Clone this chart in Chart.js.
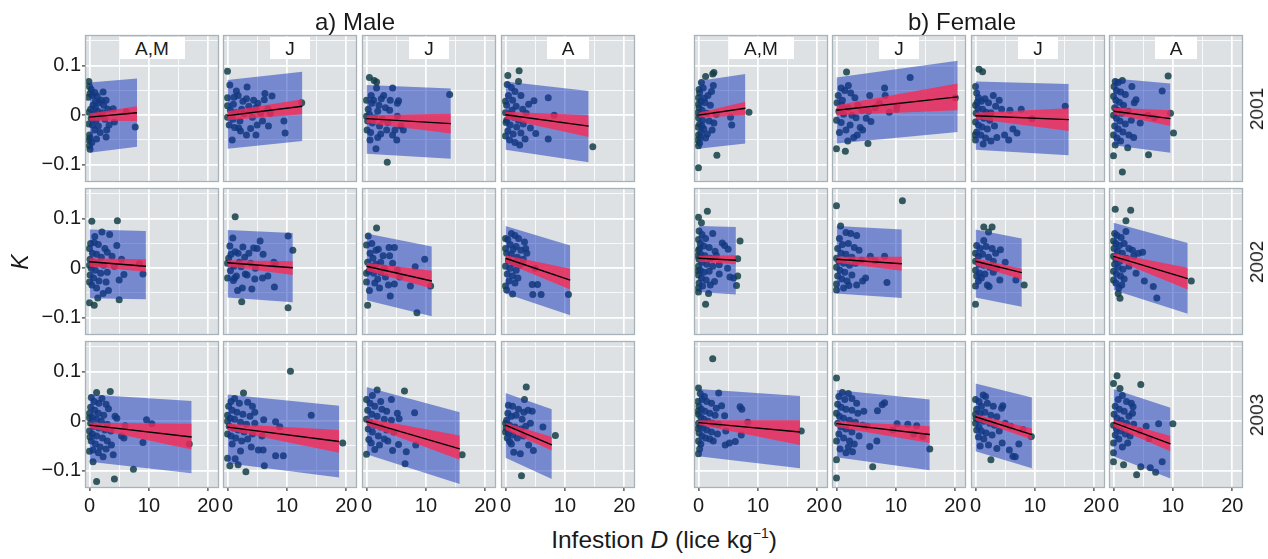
<!DOCTYPE html>
<html>
<head>
<meta charset="utf-8">
<script src="https://cdn.jsdelivr.net/npm/chart.js@4.4.1/dist/chart.umd.min.js"></script>
<style>
  body { margin: 0; width: 1268px; height: 559px; background: #fff; position: relative; overflow: hidden;
         font-family: "Liberation Sans", Arial, Helvetica, sans-serif; color: #1a1a1a; }
  canvas { position: absolute; }
  .t { position: absolute; white-space: nowrap; }
  .strip { position: absolute; background: #fff; height: 22px; line-height: 23px; font-size: 19px; text-align: center; }
  .rot { position: absolute; white-space: nowrap; transform: translate(-50%, -50%) rotate(-90deg); }
  sup { font-size: 14px; line-height: 0; vertical-align: 10px; }
</style>
</head>
<body>
<script>
// facets
const groups = ['a) Male', 'b) Female'];
const stages = ['A,M', 'J', 'J', 'A'];
const years = ['2001', '2002', '2003'];

// axes
const xTicks = [0, 10, 20];
const xMinor = [5, 15];
const yTicks = [-0.1, 0, 0.1];
const yTickLabels = ['\u22120.1', '0', '0.1'];
const yMinor = [-0.05, 0.05, 0.15];

// panels are numbered year by year: male A,M J J A then female A,M J J A
const xEnd = [8.0, 12.6, 14.2, 14.0, 7.9, 20.4, 15.7, 9.6,
              9.5, 11.0, 11.0, 10.9, 6.3, 11.0, 7.8, 12.5,
              17.2, 18.8, 15.7, 7.8, 17.1, 15.7, 9.5, 9.6];
const fitStart = [-0.004, -0.001, -0.007, 0.001, 0.000, 0.010, -0.001, 0.008,
                  0.013, 0.011, 0.004, 0.020, 0.020, 0.018, 0.014, 0.024,
                  -0.008, -0.012, -0.001, -0.008, -0.003, -0.005, 0.009, -0.003];
const fitEnd = [0.005, 0.018, -0.017, -0.022, 0.014, 0.037, -0.009, -0.007,
                0.004, 0.001, -0.026, -0.024, 0.016, 0.009, -0.009, -0.021,
                -0.032, -0.041, -0.056, -0.048, -0.022, -0.027, -0.027, -0.046];
const ciLoStart = [-0.0115, -0.010, -0.016, -0.007, -0.005, 0.000, -0.007, 0.002,
                   0.003, 0.004, -0.005, 0.011, 0.013, 0.011, 0.006, 0.018,
                   -0.014, -0.018, -0.008, -0.018, -0.007, -0.012, 0.002, -0.012];
const ciHiStart = [0.0035, 0.008, 0.000, 0.007, 0.005, 0.020, 0.005, 0.015,
                   0.020, 0.016, 0.011, 0.026, 0.025, 0.023, 0.020, 0.030,
                   -0.003, -0.005, 0.006, -0.003, 0.002, 0.000, 0.014, 0.003];
const ciLoEnd = [-0.012, 0.002, -0.037, -0.044, 0.000, 0.010, -0.032, -0.022,
                 -0.007, -0.014, -0.041, -0.043, 0.008, -0.005, -0.023, -0.043,
                 -0.057, -0.064, -0.078, -0.059, -0.048, -0.044, -0.037, -0.061];
const ciHiEnd = [0.018, 0.032, 0.003, 0.000, 0.027, 0.064, 0.014, 0.010,
                 0.018, 0.014, -0.005, -0.001, 0.026, 0.023, -0.001, 0.001,
                 -0.005, -0.018, -0.029, -0.032, 0.002, -0.010, -0.015, -0.030];
const piLoStart = [-0.076, -0.068, -0.078, -0.070, -0.068, -0.057, -0.070, -0.061,
                   -0.061, -0.059, -0.065, -0.051, -0.048, -0.051, -0.059, -0.044,
                   -0.082, -0.085, -0.067, -0.074, -0.071, -0.073, -0.061, -0.071];
const piHiStart = [0.066, 0.071, 0.061, 0.068, 0.069, 0.076, 0.068, 0.074,
                   0.078, 0.077, 0.070, 0.085, 0.085, 0.085, 0.078, 0.092,
                   0.054, 0.054, 0.069, 0.057, 0.065, 0.063, 0.076, 0.065];
const piLoEnd = [-0.064, -0.052, -0.088, -0.095, -0.057, -0.034, -0.081, -0.076,
                 -0.063, -0.069, -0.097, -0.095, -0.053, -0.060, -0.078, -0.092,
                 -0.105, -0.114, -0.127, -0.117, -0.095, -0.099, -0.095, -0.116];
const piHiEnd = [0.074, 0.088, 0.054, 0.049, 0.083, 0.110, 0.063, 0.064,
                 0.075, 0.071, 0.044, 0.046, 0.083, 0.078, 0.060, 0.051,
                 0.041, 0.031, 0.018, 0.024, 0.051, 0.044, 0.048, 0.027];

// observed fish: [infestation D, condition K]
const points = [
  [[-0.1,0.068],[0,0.058],[0.3,0.052],[0.1,0.044],[-0.2,0.036],[0.5,0.04],[0.9,0.046],[1.3,0.038],[2.3,0.047],[2,0.03],[2.8,0.03],[1.6,0.025],[0.6,0.02],[1,0.015],[0.2,0.012],[-0.1,0.006],[1.4,0.008],[2.2,0.005],[3.1,0.012],[4,0.013],[6.2,0.007],[0.7,0.002],[1.8,-0.002],[0.3,-0.006],[1.1,-0.01],[2.6,-0.008],[4.2,-0.014],[7.7,-0.024],[-0.1,-0.018],[0.5,-0.02],[1.5,-0.022],[2.9,-0.03],[1.8,-0.035],[0.9,-0.03],[0,-0.04],[0.1,-0.046],[-0.1,-0.05],[2.8,-0.044],[1.2,-0.048],[0.4,-0.055],[0,-0.062],[0.1,-0.069],[3.3,-0.02],[2.4,0.02],[1,0.028]],
  [[0,0.089],[0,0.035],[0,0.019],[0,-0.004],[0.4,0.061],[1.5,0.049],[1.1,0.036],[1.8,0.04],[3.3,0.057],[3.2,0.033],[2.6,0.028],[6.3,0.044],[7.5,0.039],[6.2,0.031],[5.1,0.024],[4.8,0.015],[6.8,0.013],[7.2,0.004],[9.5,-0.012],[9.7,-0.036],[6.9,-0.022],[5,-0.02],[4.8,-0.04],[3.2,-0.04],[2.2,-0.032],[0.8,-0.05],[1.2,-0.025],[2.1,-0.012],[0.5,0.01],[1.4,0.005],[2.8,0.003],[3.8,0.008],[4.2,-0.004],[5.6,0.004],[3.6,0.018],[2.4,0.012],[0.9,-0.008],[1.9,-0.026],[3.9,-0.027],[5.9,-0.012],[12.5,0.025],[4.4,0.03],[1,0.022],[0.3,-0.02]],
  [[0.5,0.076],[1.3,0.07],[1.7,0.067],[3.5,-0.095],[14,0.042],[1.7,0.055],[4.4,0.055],[2.5,0.033],[5.2,0.024],[5.4,0.029],[3.9,0.01],[5.2,-0.002],[5.8,-0.022],[6.2,-0.03],[4.8,-0.03],[4.4,-0.04],[5.1,-0.05],[1.6,-0.068],[0.6,-0.05],[1.9,-0.045],[0.1,-0.03],[0.3,0.012],[0.8,0.04],[1.2,0.03],[2.1,0.02],[0.5,0.002],[1.4,-0.005],[2.7,-0.008],[3.2,0.015],[1,-0.016],[2.2,-0.022],[3.4,-0.03],[0.2,-0.012],[0.9,0.024],[1.9,0.008],[2.9,0.04],[3.6,-0.015],[0,0.03],[0,-0.002],[4,0.03],[2.4,-0.038],[0.7,-0.035]],
  [[0.4,0.08],[2.3,0.09],[2.2,0.068],[14.7,-0.064],[7.2,0.035],[8.2,0],[7.2,-0.048],[5.1,-0.037],[4.8,0.029],[3.9,0.022],[0.3,0.062],[1,0.056],[1.6,0.048],[0.5,0.04],[2.6,0.04],[1.2,0.03],[0.2,0.02],[1.8,0.018],[2.9,0.012],[0,0.005],[0.6,0.002],[1.4,-0.004],[3.5,0.004],[2.2,-0.01],[0.1,-0.015],[0.8,-0.02],[1.9,-0.024],[3,-0.018],[4.2,-0.026],[0.4,-0.032],[1.3,-0.038],[2.6,-0.036],[0,-0.042],[0.7,-0.05],[1.6,-0.055],[3.3,-0.048],[2.4,-0.06],[0.2,-0.01],[1.1,0.01],[0,0.028]],
  [[2.4,0.083],[2.6,0.086],[1.2,0.078],[8.5,0.006],[3.1,-0.081],[0,-0.106],[-0.1,-0.05],[5.4,-0.004],[5.6,-0.02],[2.5,0.06],[2.2,0.048],[1.2,-0.046],[0.5,0.066],[0.8,0.055],[1.6,0.04],[0.2,0.045],[0,0.035],[0.4,0.028],[1.1,0.025],[2,0.02],[0.1,0.015],[0.6,0.01],[-0.1,0.005],[0.3,0],[1.4,0.004],[0,-0.005],[0.7,-0.01],[1.8,-0.012],[0.2,-0.018],[-0.1,-0.024],[0.9,-0.028],[2.3,-0.03],[0.4,-0.035],[0,-0.04],[1.5,-0.038],[0.2,-0.056],[0,-0.062],[0.6,-0.022],[0.1,0.052],[1,0.034],[0,0.022],[0.3,-0.045],[3,0.002],[2.6,-0.016]],
  [[1.7,0.087],[0,-0.068],[1.5,-0.073],[5.3,-0.057],[12.4,0.076],[20,0.035],[8.1,0.055],[8.2,0.04],[8.9,0.006],[10.2,0.02],[10.1,0.012],[7.2,0.024],[5.6,0.04],[5.4,0.008],[5.8,-0.013],[5,-0.006],[3.5,-0.04],[1.9,-0.052],[1.6,-0.03],[0.3,0.04],[0.8,0.055],[1.4,0.05],[2.4,0.045],[3.1,0.035],[0.1,0.025],[0.9,0.02],[2,0.015],[3.6,0.02],[4.3,0.01],[0.4,0.008],[1.2,0.002],[2.6,0],[3.3,-0.005],[0,-0.01],[0.8,-0.015],[2.3,-0.02],[4,-0.025],[0.5,-0.035],[2.9,-0.045],[4.4,-0.03],[1,0.03],[2,0.06],[6.5,0.015]],
  [[0.6,0.093],[1.2,0.088],[0,0.058],[15.1,0.018],[7.7,0.012],[9.5,-0.007],[7,-0.036],[6.3,-0.028],[5.6,-0.05],[4.9,-0.04],[3,0.04],[4,0.03],[3.4,0.018],[5.8,0.01],[2.6,0.005],[0.2,0.045],[0.5,0.035],[1,0.028],[1.6,0.033],[2.2,0.025],[0,0.02],[0.4,0.014],[1.2,0.012],[1.8,0.006],[0.1,0.004],[0.7,-0.002],[1.4,-0.006],[2.4,-0.01],[0,-0.014],[0.5,-0.02],[1.1,-0.024],[2,-0.028],[3.2,-0.022],[0.2,-0.034],[0.9,-0.04],[1.7,-0.046],[3.6,-0.045],[0,-0.05],[1.3,-0.058],[2.6,-0.052],[4.4,0.012],[0.3,0.026],[-0.1,-0.04]],
  [[9.2,0.079],[9.6,0.004],[10.1,-0.036],[0,-0.082],[1.5,-0.115],[5.9,-0.08],[2.4,-0.066],[8.2,0.049],[6.9,-0.005],[5.8,0],[4.5,-0.016],[3.8,0.031],[3.5,0.025],[3.1,0.058],[0.3,0.068],[0.8,0.066],[1.5,0.07],[0.1,0.058],[0.5,0.05],[1.2,0.047],[2,0.042],[0,0.038],[0.4,0.03],[1,0.026],[1.7,0.02],[0.2,0.015],[0.7,0.01],[1.4,0.004],[2.5,0.008],[0,0],[0.5,-0.006],[1.1,-0.012],[2,-0.018],[3,-0.01],[0.2,-0.022],[0.8,-0.028],[1.6,-0.034],[0,-0.04],[0.6,-0.046],[1.2,-0.052],[2.6,-0.04],[0.3,-0.06],[3.4,-0.045]],
  [[0.4,0.095],[4.7,0.096],[0,-0.07],[0.8,-0.075],[1.4,-0.06],[5,-0.064],[2.1,0.073],[3.4,0.068],[4.6,0.046],[5.8,-0.013],[9,-0.012],[5.4,0.018],[8.4,0.009],[5,-0.024],[3.2,-0.045],[2.3,-0.051],[0.2,0.05],[0.8,0.052],[1.5,0.048],[2.6,0.04],[3,0.032],[0,0.04],[0.5,0.03],[1.2,0.028],[2,0.022],[3.8,0.024],[0.1,0.018],[0.6,0.012],[1.4,0.01],[2.4,0.006],[0,0.006],[0.3,0],[1,-0.004],[1.9,-0.01],[3,-0.008],[0.1,-0.014],[0.7,-0.02],[1.6,-0.026],[2.8,-0.028],[0.4,-0.034],[1.2,-0.04],[0,-0.028],[0.9,0.064],[4.2,0.004]],
  [[1.3,0.104],[2.4,-0.068],[10.2,-0.08],[10.2,0.065],[11,0.036],[5.5,0.055],[4.4,0.041],[5,0.04],[2.6,0.043],[0.9,0.061],[1.3,0.033],[2.9,0.022],[7.8,0.012],[8.1,0.008],[4.7,0],[2.3,0.003],[3.3,-0.014],[4.6,-0.022],[3,-0.012],[1.5,-0.016],[1.2,-0.02],[5.9,-0.02],[6.8,-0.016],[7.9,-0.038],[1,-0.025],[0,-0.02],[0.2,0.02],[0,0.01],[0.6,0.028],[1.8,0.03],[0.4,0.045],[3.6,0.03],[2,0.012],[1.1,0.004],[0.5,-0.005],[2.5,-0.04],[1.7,-0.045],[4.1,-0.042],[6,0.028],[3.9,0.01]],
  [[1.7,0.081],[0.2,-0.075],[8.5,-0.09],[0,0.047],[0,-0.01],[0,-0.028],[0.3,0.065],[9.8,0.018],[10.8,-0.036],[8.2,0.003],[7.4,-0.036],[4,-0.056],[4.7,0.042],[3.8,0.042],[2,0.038],[1.6,0.036],[2.8,0.025],[3.9,0.025],[4.4,0.01],[5.2,-0.004],[4.7,-0.032],[3.7,-0.034],[1.9,-0.022],[1.4,-0.03],[0.5,-0.045],[0.6,0.03],[1.1,0.02],[0.2,0.012],[0.8,0.004],[1.6,0.008],[2.4,0.012],[3,0],[0.4,-0.006],[1.2,-0.01],[2.4,-0.008],[3.2,-0.018],[2.2,-0.04],[0.9,0.05],[5.6,-0.018]],
  [[1,0.07],[3.2,0.053],[3.6,0.03],[2.1,-0.02],[4.5,-0.033],[5.4,-0.033],[4.6,-0.053],[6,-0.053],[10.6,-0.053],[5,0],[1.2,-0.052],[0,-0.036],[0,0.06],[0,0.04],[1.6,0.066],[0.4,0.058],[2.2,0.06],[0.8,0.048],[1.8,0.044],[2.6,0.036],[0.2,0.03],[1,0.028],[2,0.022],[3,0.018],[0.5,0.015],[1.4,0.01],[2.4,0.006],[0,0.004],[0.8,0],[1.8,-0.004],[0.3,-0.012],[1.2,-0.016],[0.6,-0.026],[1.6,-0.03],[0.2,-0.044],[2.8,0.01],[3.4,0.04],[1.3,0.038]],
  [[1.5,0.115],[0,0.103],[0.5,0.092],[7,0.055],[6.6,0.019],[6.6,-0.016],[6.4,-0.035],[1.2,-0.073],[1.7,-0.051],[0,-0.048],[2.4,0.07],[4,0.051],[4.4,0.046],[5,0.038],[3.5,0.007],[4.9,0],[5.3,-0.018],[3.5,-0.012],[2.7,-0.027],[5.9,-0.02],[0.1,0.075],[0.6,0.068],[1.2,0.06],[0,0.058],[0.3,0.05],[0.9,0.045],[1.8,0.042],[2.8,0.034],[0,0.036],[0.4,0.028],[1.1,0.025],[2,0.02],[0.1,0.018],[0.6,0.012],[1.4,0.008],[2.4,0.004],[0,0.004],[0.3,-0.004],[0.9,-0.008],[1.8,-0.006],[0,-0.014],[0.5,-0.02],[1.3,-0.024],[0.1,-0.03],[0.7,-0.036],[2,-0.034],[0,-0.04],[3,0.026],[0.2,0.04],[-0.1,0.025],[-0.1,-0.005]],
  [[0,0.126],[11.1,0.136],[0.7,0.085],[8.5,-0.029],[8.1,0.024],[5.7,0.024],[4.9,-0.02],[4.4,-0.026],[3.4,-0.034],[2.1,-0.035],[0,-0.032],[2.4,0.07],[3.4,0.066],[1.6,0.072],[3.8,0.036],[3,0.042],[2,0.05],[0.5,0.06],[1,0.048],[0.2,0.04],[0.8,0.03],[1.6,0.028],[2.6,0.022],[0,0.02],[0.4,0.014],[1.2,0.01],[2.2,0.006],[3.2,0.01],[0,0.002],[0.6,-0.004],[1.4,-0.008],[2.6,-0.014],[0.2,-0.016],[0.9,-0.022],[1.8,-0.026],[0,-0.044],[1.2,-0.04],[6.5,0.015],[4.2,0.016]],
  [[1.4,0.083],[2.8,0.083],[0,-0.073],[8.2,-0.034],[2.2,0.073],[1.4,0.056],[4.2,0.037],[5,0.012],[6.8,-0.024],[4.1,-0.024],[2.3,-0.037],[2,-0.034],[0.5,-0.026],[0.2,0.046],[0.8,0.04],[1.8,0.044],[2.8,0.04],[3.4,0.03],[0,0.03],[0.5,0.024],[1.2,0.028],[2.2,0.022],[3,0.014],[0,0.014],[0.6,0.008],[1.4,0.006],[2.4,0.002],[3.6,0],[0,-0.004],[0.7,-0.01],[1.6,-0.012],[0.2,-0.016],[1,-0.02],[0,-0.036],[3,-0.008]],
  [[0.3,0.119],[2.9,0.117],[2.1,0.096],[13.1,-0.026],[0.8,-0.051],[1.1,-0.061],[7.3,-0.06],[6.7,-0.037],[5.2,-0.026],[4.9,0.032],[4.2,0.03],[2.1,0.074],[1.8,-0.022],[1.4,-0.034],[0.2,0.07],[0.6,0.066],[1.3,0.062],[0,0.055],[0.4,0.05],[1,0.046],[1.8,0.05],[2.6,0.04],[0.1,0.04],[0.7,0.034],[1.5,0.03],[3.2,0.036],[0,0.024],[0.4,0.018],[1.1,0.014],[2.2,0.02],[0.2,0.008],[0.8,0.002],[1.6,-0.002],[2.6,0.004],[0,-0.006],[0.5,-0.012],[1.2,-0.016],[0,-0.024],[0.4,-0.03],[0.9,-0.04],[3.8,-0.01],[3.4,0.024]],
  [[1.2,-0.122],[4.2,-0.117],[7.4,-0.097],[16.8,-0.046],[1.2,0.058],[3.5,0.06],[0,0.007],[0,-0.061],[0.6,-0.082],[9.6,0.003],[10.5,-0.005],[9,-0.043],[6,-0.009],[5.8,-0.034],[5.4,-0.03],[4,-0.068],[2.3,-0.072],[4.3,0.01],[4.6,0.006],[3.2,0.025],[2.8,0.034],[2.1,0.046],[0.3,0.048],[0.8,0.04],[1.6,0.036],[0.2,0.028],[0.9,0.022],[1.5,0.016],[2.4,0.012],[0,0.016],[0.5,0.008],[1.2,0.004],[2,0],[3,-0.006],[0.2,-0.004],[0.8,-0.01],[1.6,-0.014],[2.6,-0.018],[3.6,-0.02],[0,-0.02],[0.5,-0.026],[1.2,-0.03],[2.2,-0.034],[3,-0.04],[0.3,-0.04],[1,-0.046],[1.8,-0.052],[2.8,-0.056],[0.6,-0.058],[1.5,-0.064],[0.1,-0.032],[3.7,-0.048]],
  [[10.6,0.101],[19.4,-0.044],[0.4,-0.09],[1.8,-0.088],[3.1,-0.102],[6.2,-0.09],[2.7,0.057],[0,0],[0,-0.075],[14.1,0.012],[8.1,-0.001],[8.8,-0.011],[8.1,-0.07],[9.4,-0.07],[6.1,0.003],[6,-0.058],[5.2,-0.058],[4,-0.052],[2.2,-0.06],[1.3,-0.076],[0.6,0.04],[1.2,0.046],[2,0.036],[3.4,0.038],[4.2,0.03],[0.2,0.03],[0.8,0.022],[1.6,0.018],[2.6,0.014],[3.8,0.01],[0,0.012],[0.5,0.006],[1.2,0.004],[2.2,-0.002],[3.2,-0.006],[4.6,-0.004],[0.3,-0.01],[1,-0.014],[1.8,-0.018],[2.8,-0.022],[4.2,-0.026],[0,-0.026],[0.6,-0.03],[1.4,-0.034],[2.4,-0.04],[3.4,-0.036],[0.8,-0.046],[5.8,-0.03],[4.6,0.018]],
  [[6.4,0.061],[16.1,-0.068],[0,0.044],[0,-0.067],[8.1,0.017],[8.3,-0.048],[6.5,-0.086],[6.7,-0.062],[5.4,-0.047],[4.4,-0.059],[1.4,-0.057],[0.4,-0.037],[1.8,0.063],[4.2,0.044],[5.2,0.016],[5.5,0.005],[2.4,0.04],[1,0.052],[0.6,0.036],[1.4,0.03],[2.6,0.024],[3.4,0.02],[0.2,0.022],[0.9,0.014],[1.8,0.01],[3,0.004],[4.2,0.002],[0,0.004],[0.6,-0.002],[1.4,-0.008],[2.4,-0.012],[3.4,-0.018],[4.6,-0.022],[0.3,-0.016],[1,-0.022],[2,-0.03],[3,-0.036],[0.8,-0.044],[2.2,-0.048],[3.6,-0.04]],
  [[3.5,0.069],[3.2,0.044],[2.7,-0.11],[8.4,-0.029],[0,-0.004],[0,-0.022],[0.5,0.032],[4.5,0.02],[6.3,-0.012],[4.7,-0.059],[3.9,-0.048],[2.5,-0.066],[1.4,-0.063],[0.7,-0.041],[3.1,0.018],[1.2,0.03],[2.2,0.024],[3.8,0.022],[0.4,0.016],[1,0.01],[1.8,0.012],[2.8,0.004],[0.2,0.002],[0.7,-0.008],[1.6,-0.012],[2.6,-0.016],[3.4,-0.01],[0.1,-0.014],[0.5,-0.024],[1.2,-0.028],[2,-0.034],[3,-0.03],[0.3,-0.034],[4.2,-0.004],[1,-0.046]],
  [[2.4,0.126],[0,0.067],[0,-0.066],[17.3,-0.02],[3.4,0.057],[7,0.029],[7.3,0.024],[8.3,-0.002],[7.2,-0.028],[6.2,-0.041],[4.5,-0.048],[5.2,-0.044],[3.9,0.031],[4.4,0.011],[2.5,-0.04],[1.9,-0.036],[1,0.05],[0.3,0.056],[0.6,0.044],[1.4,0.04],[2.2,0.036],[3,0.026],[0.1,0.03],[0.5,0.024],[1.1,0.02],[1.9,0.016],[2.8,0.012],[0,0.014],[0.4,0.008],[0.9,0.004],[1.6,0],[2.4,-0.004],[3.4,-0.006],[0,-0.004],[0.3,-0.01],[0.8,-0.014],[1.4,-0.018],[2.2,-0.022],[3.2,-0.026],[0.1,-0.024],[0.6,-0.03],[1.2,-0.034],[0,-0.04],[0.4,-0.046],[4.6,-0.02],[0.2,-0.056],[-0.1,0.04],[-0.1,0.02],[-0.1,-0.015]],
  [[0,0.087],[0,-0.04],[0,-0.078],[0,-0.115],[6.1,-0.092],[15.7,-0.056],[12,-0.006],[13.5,-0.009],[14.5,-0.031],[13,-0.026],[8.1,0.037],[7.7,0.033],[6.9,0.021],[6.8,-0.04],[5.6,-0.051],[2.7,-0.062],[2,-0.052],[4.6,0.02],[4.4,-0.008],[1,0.058],[2,0.056],[0.4,0.05],[1.4,0.044],[2.6,0.046],[3.4,0.036],[0.2,0.034],[0.8,0.028],[1.6,0.024],[2.6,0.022],[3.6,0.016],[0,0.016],[0.5,0.01],[1.2,0.006],[2.2,0.002],[3.2,-0.002],[5.2,-0.01],[0.2,-0.004],[0.8,-0.012],[1.6,-0.016],[2.6,-0.022],[3.8,-0.03],[0.4,-0.026],[1.2,-0.034],[2.2,-0.04],[3,-0.046],[0.6,-0.056],[1.6,-0.064],[9.5,-0.018],[10.2,-0.005]],
  [[0,0.044],[0,0.014],[0,-0.004],[2.6,-0.078],[9.4,-0.031],[1.3,0.053],[1.7,0.05],[4.6,0.031],[4.4,0.026],[3.6,0.009],[5.9,-0.01],[7.3,-0.046],[6.3,-0.071],[6.7,-0.072],[5.7,-0.058],[4.5,-0.044],[3.6,-0.055],[2.2,-0.048],[0.8,-0.05],[0.6,-0.012],[8,-0.017],[0.6,0.04],[1,0.03],[2,0.036],[3,0.03],[0.2,0.024],[0.8,0.016],[1.6,0.018],[2.6,0.012],[0.1,0.006],[0.6,0.002],[1.4,0],[2.4,-0.004],[3.2,-0.008],[0.2,-0.018],[1,-0.02],[1.8,-0.024],[2.8,-0.028],[4,-0.02],[0.5,-0.032],[1.4,-0.036],[5,-0.004]],
  [[0.6,0.092],[0,0.076],[1.1,0.066],[4.6,0.074],[10,-0.005],[0,-0.082],[1.7,-0.088],[3.9,-0.108],[0,-0.064],[7.6,-0.005],[5.5,-0.01],[8.2,-0.082],[6.2,-0.094],[7.1,-0.103],[4.6,-0.092],[6,-0.035],[1.5,-0.052],[3.3,0.029],[3.2,0.016],[1.5,0.052],[0.8,0.044],[2.2,0.04],[3,0.036],[0.3,0.03],[1,0.024],[1.8,0.02],[2.6,0.01],[0.1,0.014],[0.6,0.006],[1.3,0.002],[2.2,-0.004],[3.4,-0.006],[0,-0.008],[0.5,-0.016],[1.2,-0.02],[2,-0.026],[2.8,-0.03],[0.3,-0.028],[0.9,-0.036],[2.4,-0.044],[0,-0.044],[4.4,-0.02]]
];

// layout and look
const panelLeft = [85, 223, 362, 501, 694, 832, 971, 1109];
const panelTop = [35, 188, 341];
const PW = 134, PH = 147;
const AXW = 50, PADT = 16, PADR = 14, AXH = 32;
const X_MIN = -0.75, X_MAX = 21.8, Y_MIN = -0.135, Y_MAX = 0.162;
const BG = '#dde1e4', FRAME = '#a7b2b9', TICK = '#6f6f6f', TXT = '#1a1a1a';
const PT = 'rgba(20,62,72,0.85)';
const BLUE = 'rgba(15,50,185,0.5)';
const RED = 'rgba(255,40,80,0.78)';
const FONT = '"Liberation Sans", Arial, Helvetica, sans-serif';

const near = (a, b) => Math.abs(a - b) < 1e-9;

const panelFrame = {
  id: 'panelFrame',
  beforeDraw(chart) {
    const a = chart.chartArea, ctx = chart.ctx;
    ctx.save();
    ctx.fillStyle = BG;
    ctx.fillRect(a.left, a.top, a.right - a.left, a.bottom - a.top);
    ctx.restore();
  },
  afterDraw(chart) {
    const a = chart.chartArea, ctx = chart.ctx;
    ctx.save();
    ctx.strokeStyle = FRAME;
    ctx.lineWidth = 1.3;
    ctx.strokeRect(a.left + 0.5, a.top + 0.5, a.right - a.left - 1, a.bottom - a.top - 1);
    ctx.restore();
  }
};

function makePanel(cv, i, showY, showX) {
  const seg = (a, b) => [{ x: 0, y: a[i] }, { x: xEnd[i], y: b[i] }];
  const edge = { type: 'line', borderWidth: 0, borderColor: 'transparent', pointRadius: 0 };
  new Chart(cv, {
    type: 'scatter',
    data: {
      datasets: [
        { type: 'line', data: seg(fitStart, fitEnd), borderColor: '#000', borderWidth: 1.4, pointRadius: 0, order: 1 },
        Object.assign({ data: seg(ciLoStart, ciLoEnd), order: 2 }, edge),
        Object.assign({ data: seg(ciHiStart, ciHiEnd), order: 2, fill: 1, backgroundColor: RED }, edge),
        Object.assign({ data: seg(piLoStart, piLoEnd), order: 3 }, edge),
        Object.assign({ data: seg(piHiStart, piHiEnd), order: 3, fill: 3, backgroundColor: BLUE }, edge),
        { data: points[i].map(p => ({ x: p[0], y: p[1] })), backgroundColor: PT, borderWidth: 0, pointRadius: 3.5, order: 4 }
      ]
    },
    options: {
      responsive: false,
      animation: false,
      devicePixelRatio: 1,
      events: [],
      layout: { padding: { left: 0, top: PADT, right: PADR, bottom: 0 } },
      plugins: { legend: { display: false }, tooltip: { enabled: false } },
      scales: {
        x: {
          type: 'linear', min: X_MIN, max: X_MAX,
          afterBuildTicks: s => { s.ticks = xTicks.concat(xMinor).sort((a, b) => a - b).map(v => ({ value: v })); },
          afterFit: s => { s.height = AXH; },
          border: { display: false },
          grid: {
            color: '#ffffff',
            lineWidth: c => (c.tick && xTicks.includes(c.tick.value)) ? 1.7 : 0.8,
            drawTicks: showX, tickLength: 3,
            tickColor: c => (c.tick && xTicks.includes(c.tick.value)) ? TICK : 'rgba(0,0,0,0)'
          },
          ticks: {
            display: showX, autoSkip: false, maxRotation: 0, padding: 3, color: TXT,
            font: { family: FONT, size: 20 },
            callback: v => xTicks.includes(v) ? String(v) : ''
          }
        },
        y: {
          type: 'linear', min: Y_MIN, max: Y_MAX,
          afterBuildTicks: s => { s.ticks = yTicks.concat(yMinor).sort((a, b) => a - b).map(v => ({ value: v })); },
          afterFit: s => { s.width = AXW; },
          border: { display: false },
          grid: {
            color: '#ffffff',
            lineWidth: c => (c.tick && yTicks.some(t => near(t, c.tick.value))) ? 1.7 : 0.8,
            drawTicks: showY, tickLength: 3,
            tickColor: c => (c.tick && yTicks.some(t => near(t, c.tick.value))) ? TICK : 'rgba(0,0,0,0)'
          },
          ticks: {
            display: showY, autoSkip: false, padding: 1, color: TXT,
            font: { family: FONT, size: 20 },
            callback: v => { const k = yTicks.findIndex(t => near(t, v)); return k < 0 ? '' : yTickLabels[k]; }
          }
        }
      }
    },
    plugins: [panelFrame]
  });
}

function addText(html, cls, css) {
  const d = document.createElement('div');
  d.className = cls;
  d.innerHTML = html;
  Object.assign(d.style, css);
  document.body.appendChild(d);
}

years.forEach((yr, r) => {
  for (let c = 0; c < 8; c++) {
    const cv = document.createElement('canvas');
    cv.width = AXW + PW + PADR;
    cv.height = PADT + PH + AXH;
    cv.style.left = (panelLeft[c] - AXW) + 'px';
    cv.style.top = (panelTop[r] - PADT) + 'px';
    document.body.appendChild(cv);
    makePanel(cv, r * 8 + c, c === 0, r === years.length - 1);
  }
  addText(yr, 'rot', { left: '1257px', top: (panelTop[r] + PH / 2) + 'px', fontSize: '19px' });
});

// strip labels on the top row
const stripW = { 'A,M': 65, 'J': 40, 'A': 42 };
for (let c = 0; c < 8; c++) {
  const s = stages[c % 4], w = stripW[s];
  addText(s, 'strip', { left: (panelLeft[c] + PW / 2 - w / 2) + 'px', top: (panelTop[0] + 2) + 'px', width: w + 'px' });
}

// group titles and axis titles
const groupCenter = [355, 962];
groups.forEach((g, k) => {
  addText(g, 't', { left: groupCenter[k] + 'px', top: '8px', fontSize: '24px', lineHeight: '27px', transform: 'translateX(-50%)' });
});
addText('<i>K</i>', 'rot', { left: '20px', top: '262px', fontSize: '23px' });
addText('Infestion <i>D</i> (lice kg<sup>\u22121</sup>)', 't',
  { left: '664px', top: '526px', fontSize: '24.5px', lineHeight: '28px', transform: 'translateX(-50%)' });
</script>
</body>
</html>
